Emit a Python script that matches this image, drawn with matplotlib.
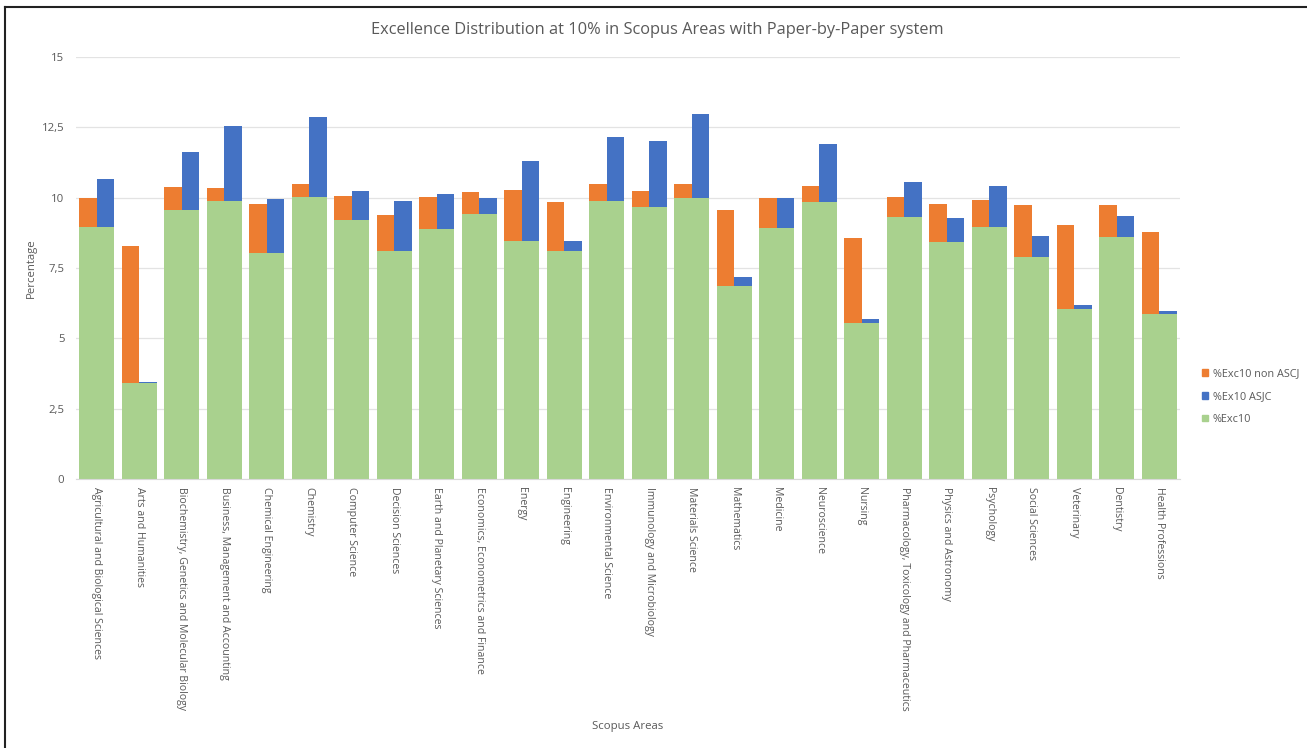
import numpy as np
import matplotlib.pyplot as plt
from matplotlib.patches import Patch
from matplotlib.lines import Line2D

plt.rcParams['font.family'] = ['Open Sans', 'DejaVu Sans']

areas = [
    'Agricultural and Biological Sciences', 'Arts and Humanities',
    'Biochemistry, Genetics and Molecular Biology',
    'Business, Management and Accounting', 'Chemical Engineering',
    'Chemistry', 'Computer Science', 'Decision Sciences',
    'Earth and Planetary Sciences', 'Economics, Econometrics and Finance',
    'Energy', 'Engineering', 'Environmental Science',
    'Immunology and Microbiology', 'Materials Science', 'Mathematics',
    'Medicine', 'Neuroscience', 'Nursing',
    'Pharmacology, Toxicology and Pharmaceutics', 'Physics and Astronomy',
    'Psychology', 'Social Sciences', 'Veterinary', 'Dentistry',
    'Health Professions',
]

# %Exc10 non ASCJ
exc_non_asjc = [10.0, 8.27, 10.39, 10.33, 9.76, 10.49, 10.05, 9.38, 10.01,
                10.21, 10.29, 9.83, 10.49, 10.24, 10.50, 9.57, 10.0, 10.42,
                8.56, 10.01, 9.78, 9.92, 9.73, 9.02, 9.73, 8.77]
# %Ex10 ASJC
exc_asjc = [10.66, 3.46, 11.62, 12.53, 9.95, 12.86, 10.23, 9.87, 10.14,
            10.0, 11.32, 8.46, 12.15, 12.0, 12.96, 7.17, 9.98, 11.91,
            5.68, 10.57, 9.27, 10.40, 8.64, 6.17, 9.34, 5.97]
# %Exc10
exc10 = [8.97, 3.40, 9.55, 9.88, 8.03, 10.04, 9.21, 8.10, 8.90,
         9.43, 8.46, 8.12, 9.87, 9.67, 10.0, 6.87, 8.93, 9.85,
         5.55, 9.33, 8.44, 8.97, 7.89, 6.05, 8.59, 5.88]

yticks = [0, 2.5, 5, 7.5, 10, 12.5, 15]
ytick_labels = ['0', '2,5', '5', '7,5', '10', '12,5', '15']

ORANGE = '#ED7D31'
BLUE = '#4472C4'
GREEN = '#A9D18E'
TXT = '#595959'

fig = plt.figure(figsize=(13.07, 7.48), dpi=100)
ax = fig.add_axes([0.0578, 0.3596, 0.8454, 0.5642])

x = np.arange(len(areas))
w = 0.82
ax.bar(x - w / 4, exc_non_asjc, w / 2, color=ORANGE, zorder=2)
ax.bar(x + w / 4, exc_asjc, w / 2, color=BLUE, zorder=2)
ax.bar(x, exc10, w, color=GREEN, zorder=3)

ax.set_xlim(-0.5, len(areas) - 0.5)
ax.set_ylim(0, 15)
ax.set_yticks(yticks)
ax.set_yticklabels(ytick_labels)
ax.set_xticks(x)
ax.set_xticklabels(areas, rotation=-90, ha='center', va='top')
ax.tick_params(axis='both', length=0, labelcolor=TXT)
ax.tick_params(axis='y', pad=8, labelsize=8.2)
ax.tick_params(axis='x', pad=6, labelsize=7.6)
ax.grid(axis='y', color='#E3E3E3', linewidth=0.9, zorder=0)
for s in ['top', 'right', 'left']:
    ax.spines[s].set_visible(False)
ax.spines['bottom'].set_color('#D9D9D9')
ax.spines['bottom'].set_zorder(4)

fig.text(31 / 1307, 1 - 268 / 748, 'Percentage', fontsize=8.2, color=TXT,
         rotation=90, ha='center', va='center')
fig.text(628 / 1307, 1 - 726 / 748, 'Scopus Areas', fontsize=8.2, color=TXT,
         ha='center', va='center')
fig.text(657 / 1307, 1 - 30 / 748,
         'Excellence Distribution at 10% in Scopus Areas with Paper-by-Paper system',
         fontsize=11.8, color=TXT, ha='center', va='center')

handles = [Patch(color=ORANGE), Patch(color=BLUE), Patch(color=GREEN)]
labels = ['%Exc10 non ASCJ', '%Ex10 ASJC', '%Exc10']
fig.legend(handles, labels, loc='center left', bbox_to_anchor=(0.912, 0.470),
           frameon=False, fontsize=7.8, labelcolor=TXT, handlelength=0.6,
           handleheight=0.6, handletextpad=0.4, labelspacing=1.1)

# outer frame (top and left edges visible)
fig.add_artist(Line2D([5 / 1307, 1.0], [1 - 7 / 748, 1 - 7 / 748],
                      color='#222222', linewidth=1.5, transform=fig.transFigure))
fig.add_artist(Line2D([5 / 1307, 5 / 1307], [0.0, 1 - 7 / 748],
                      color='#222222', linewidth=1.5, transform=fig.transFigure))

fig.savefig('out.png', dpi=100, facecolor='white')
